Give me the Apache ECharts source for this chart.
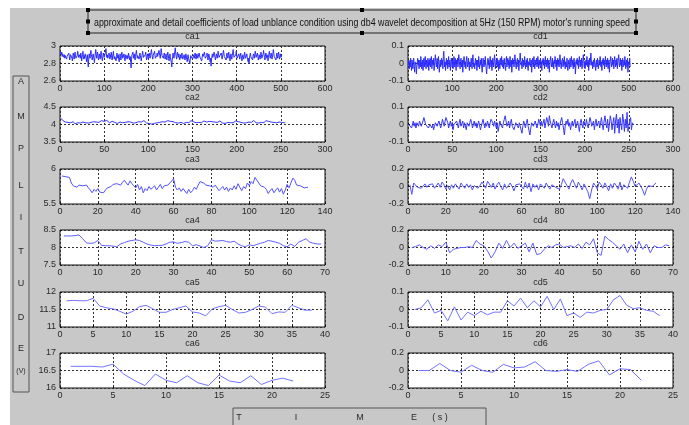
<!DOCTYPE html>
<html><head><meta charset="utf-8">
<script src="https://cdn.jsdelivr.net/npm/echarts@6/dist/echarts.min.js"></script>
<style>
html,body{margin:0;padding:0;background:#fff;}
#bg{position:absolute;left:10px;top:8px;width:679px;height:417px;background:#c8c8c8;}
#chart{position:absolute;left:0;top:0;width:689px;height:425px;}
</style></head>
<body><div id="bg"></div><div id="chart"></div>
<script>
const titleText = "approximate and detail coefficients of load unblance condition using db4 wavelet decomposition at 5Hz (150 RPM) motor's running speed";
const leftTitles = ['ca1','ca2','ca3','ca4','ca5','ca6'];
const rightTitles = ['cd1','cd2','cd3','cd4','cd5','cd6'];
const yLetters = ['A','M','P','L','I','T','U','D','E','(V)'];
const xLetters = ['T','I','M','E','( s )'];
// x axis ranges [min,max,interval] per row
const xRanges = [[0,600,100],[0,300,50],[0,140,20],[0,70,10],[0,40,5],[0,25,5]];
const yRangesA = [[2.6,3,0.2],[3.5,4.5,0.5],[5.5,6,0.5],[7.5,8.5,0.5],[11,12,0.5],[16,17,0.5]];
const yRangesD = [[-0.1,0.1,0.1],[-0.1,0.1,0.1],[-0.2,0.2,0.2],[-0.2,0.2,0.2],[-0.1,0.1,0.1],[-0.2,0.2,0.2]];

const ca1 = [
2.93,2.92,2.90,2.93,2.88,2.91,2.89,2.92,2.87,2.90,2.86,2.89,2.91,2.87,2.85,2.88,2.90,2.86,2.89,2.92,2.88,2.84,2.87,2.90,2.88,
2.91,2.86,2.83,2.88,2.92,2.89,2.85,2.87,2.93,2.90,2.86,2.88,2.84,2.89,2.94,2.91,2.87,2.85,2.90,2.88,2.86,2.92,2.89,2.83,2.87,
2.90,2.94,2.88,2.85,2.89,2.86,2.91,2.93,2.87,2.82,2.86,2.90,2.88,2.76,2.85,2.91,2.89,2.86,2.92,2.95,2.90,2.87,2.84,2.88,2.91,
2.89,2.85,2.81,2.87,2.92,2.96,2.90,2.86,2.88,2.93,2.89,2.84,2.87,2.91,2.88,2.85,2.90,2.94,2.89,2.86,2.83,2.88,2.92,2.90,2.87,
2.85,2.89,2.93,2.97,2.91,2.87,2.90,2.86,2.84,2.89,2.92,2.88,2.85,2.90,2.87,2.93,2.89,2.84,2.86,2.91,2.94,2.88,2.85,2.88,2.90,
2.87,2.83,2.88,2.92,2.89,2.86,2.90,2.85,2.82,2.87,2.91,2.88,2.84,2.89,2.93,2.90,2.86,2.88,2.85,2.91,2.87,2.83,2.86,2.90,2.92,
2.88,2.85,2.89,2.86,2.92,2.90,2.87,2.84,2.88,2.81,2.75,2.85,2.90,2.88,2.93,2.89,2.86,2.91,2.87,2.84,2.88,2.92,2.95,2.90,2.86,
2.89,2.87,2.91,2.85,2.88,2.92,2.89,2.86,2.83,2.87,2.90,2.94,2.91,2.87,2.85,2.89,2.86,2.90,2.93,2.88,2.84,2.87,2.91,2.89,2.85,
2.88,2.92,2.90,2.86,2.89,2.93,2.96,2.91,2.88,2.85,2.89,2.87,2.91,2.94,2.90,2.86,2.88,2.84,2.89,2.92,2.88,2.86,2.90,2.95,2.92,
2.89,2.86,2.91,2.97,2.93,2.89,2.87,2.90,2.86,2.88,2.92,2.89,2.85,2.88,2.91,2.87,2.84,2.89,2.93,2.90,2.86,2.83,2.88,2.91,2.87,
2.85,2.81,2.76,2.84,2.88,2.92,2.89,2.86,2.90,2.94,2.98,2.92,2.88,2.85,2.89,2.93,2.90,2.87,2.91,2.88,2.84,2.87,2.90,2.86,2.89,
2.92,2.88,2.85,2.83,2.87,2.90,2.88,2.84,2.86,2.91,2.89,2.85,2.82,2.87,2.90,2.86,2.88,2.84,2.80,2.85,2.89,2.87,2.91,2.88,2.85,
2.83,2.87,2.90,2.86,2.89,2.92,2.88,2.85,2.87,2.91,2.89,2.86,2.84,2.88,2.92,2.90,2.87,2.85,2.89,2.86,2.83,2.88,2.91,2.88,2.86,
2.90,2.93,2.89,2.86,2.88,2.85,2.89,2.92,2.88,2.84,2.87,2.91,2.89,2.85,2.82,2.86,2.77,2.84,2.88,2.91,2.87,2.85,2.89,2.93,2.90,
2.87,2.84,2.88,2.91,2.89,2.86,2.90,2.94,2.91,2.87,2.85,2.89,2.86,2.88,2.92,2.89,2.85,2.87,2.91,2.95,2.92,2.88,2.86,2.90,2.87,
2.84,2.88,2.92,2.89,2.86,2.88,2.93,2.90,2.86,2.83,2.87,2.91,2.88,2.85,2.89,2.92,2.96,2.91,2.87,2.85,2.89,2.86,2.90,2.94,2.90,
2.86,2.88,2.84,2.87,2.91,2.89,2.85,2.88,2.92,2.89,2.86,2.83,2.87,2.90,2.88,2.85,2.89,2.93,2.90,2.86,2.84,2.88,2.91,2.87,2.85,
2.82,2.86,2.80,2.85,2.89,2.92,2.88,2.86,2.90,2.87,2.84,2.88,2.91,2.89,2.86,2.90,2.94,2.91,2.87,2.85,2.89,2.92,2.88,2.84,2.87,
2.90,2.88,2.85,2.89,2.93,2.90,2.86,2.88,2.85,2.91,2.95,2.90,2.87,2.84,2.88,2.92,2.89,2.86,2.90,2.87,2.83,2.87,2.91,2.94,2.90,
2.86,2.89,2.92,2.88,2.85,2.87,2.91,2.96,2.92,2.88,2.86,2.90,2.87,2.84,2.88,2.92,2.89,2.86,2.90,2.93,2.89,2.85,2.88,2.91,2.87,
2.85,2.89,2.86];

const cd1 = [
-.01,.02,-.03,.01,-.02,.03,-.01,-.04,.02,.00,-.03,.01,.03,-.02,-.05,.01,.02,-.01,-.06,-.02,.01,.03,-.01,.02,-.03,
.00,.02,-.02,.04,.01,-.03,-.01,.02,-.04,.00,.03,-.02,.01,.04,-.01,-.03,.02,.00,-.02,.03,.01,-.04,.02,-.01,.03,
-.02,.01,.04,-.03,.00,.02,-.01,.03,-.04,-.01,.02,.05,.01,-.02,.00,.03,-.03,.01,.04,-.01,-.05,.00,.02,-.02,.01,
.03,-.01,.02,-.03,.04,.07,.02,-.02,.01,-.04,.00,.03,-.01,.02,-.03,.01,.04,-.02,.00,.02,-.04,-.01,.03,.01,-.02,
.02,-.03,.00,.04,.01,-.02,.03,-.01,-.04,.02,.00,.03,-.02,.01,.05,.02,-.01,-.03,.01,.03,-.02,.00,.02,-.05,-.01,
.02,.04,.00,-.02,.01,-.03,.02,.04,.01,-.02,.00,.03,-.01,-.04,.01,.02,-.02,.03,.00,-.03,.02,.05,.01,-.02,.00,
-.03,.01,.03,-.01,.02,-.04,.00,.02,-.02,.04,.01,-.03,.00,.02,-.01,.03,-.02,-.05,.00,.03,.01,-.02,.02,-.01,.04,
.00,-.03,-.06,-.02,.01,.03,-.01,.02,-.03,.00,.04,.01,-.02,.02,-.04,-.01,.03,.00,-.02,.02,.05,.01,-.03,.00,.02,
-.01,.03,-.02,.01,-.04,.02,.00,-.03,.03,.01,-.01,.04,.00,-.02,.02,-.03,.01,.03,-.01,.00,-.04,.02,.04,-.02,.01,
.03,-.01,.02,-.03,.00,.04,.01,-.02,.02,-.05,-.01,.03,.00,.02,-.02,.01,.05,.02,-.01,-.03,.01,.00,.03,-.02,.02,
-.04,.00,.02,.06,.02,-.01,.01,-.03,.03,.00,-.02,.02,-.01,.04,.01,-.03,.00,.02,-.02,.03,-.01,-.04,.01,.02,-.01,
.03,.00,-.02,.02,-.05,-.01,.03,.01,-.02,.04,.00,-.03,.02,-.01,.01,.03,-.02,.00,.04,.01,-.03,.02,-.01,.00,.03,
-.02,.01,-.04,.02,.00,.03,-.01,.02,-.03,.01,.04,.00,-.02,.02,-.01,.03,-.03,.00,.02,-.05,-.01,.02,.04,.01,-.02,
.00,.03,-.02,.01,-.03,.02,.00,.04,.01,-.02,.02,-.04,.00,.03,-.01,.02,-.02,.01,.05,.02,-.01,-.03,.01,.00,.03,
-.02,.02,-.01,.04,.00,-.03,.01,.02,-.02,.03,-.01,-.04,.00,.02,.01,-.03,.03,.00,-.02,.04,.01,-.01,.02,-.03,.00,
.03,-.02,.01,-.06,-.02,.02,.00,.03,-.01,.02,-.03,.01,.04,.00,-.02,.02,-.01,.03,-.03,.00,.02,.05,.01,-.02,.01,
-.03,.00,.02,-.01,.04,.01,-.02,.02,-.04,.00,.03,-.01,.02,.06,.02,-.01,.01,-.03,.00,.02,-.02,.03,.01,-.01,-.04,
.00,.02,-.02,.03,.01,-.03,.00,.02,-.01,.04,.00,-.02,.01,-.04,.02,.00,.03,-.01,.02,-.03,.01,.04,.00,-.02,.02,
-.01,.03,-.03,.00,.02,-.05,-.01,.02,.04,.01,-.02,.00,.03,-.01,.02,-.03,.01,.04,.00,-.02,.02,-.01,.03,-.03,.00,
.02,.05,.01,-.02,.00,.03,-.01,.02,-.04,.01,.03,-.02,.00,.02,-.01,.04,.01,-.03,.00,.02,-.02,.03,-.05,.01,.02,
-.01,.03,-.02];

const ca2 = [
4.18,4.15,4.12,4.10,4.09,4.07,4.08,4.05,4.06,4.04,4.07,4.05,4.03,4.06,4.08,4.05,4.02,4.04,4.07,4.05,4.03,4.06,4.04,4.01,4.05,
4.07,4.04,4.02,4.05,4.03,4.06,4.04,4.01,4.04,4.06,4.03,4.05,4.08,4.06,4.04,4.07,4.10,4.08,4.06,4.09,4.07,4.11,4.08,4.06,4.09,
4.07,4.10,4.12,4.09,4.07,4.05,4.08,4.06,4.09,4.07,4.04,4.06,4.08,4.05,4.03,4.06,4.04,4.07,4.05,4.02,4.05,4.07,4.04,4.06,4.03,
4.05,4.08,4.06,4.04,4.07,4.05,4.02,4.04,4.06,4.03,4.05,4.07,4.10,4.08,4.06,4.09,4.07,4.05,4.08,4.11,4.08,4.06,4.04,4.07,4.05,
4.03,4.06,4.04,4.01,4.04,4.06,4.03,4.00,4.03,4.05,4.02,4.04,4.06,4.03,4.05,4.08,4.06,4.04,4.07,4.05,4.08,4.11,4.08,4.06,4.09,
4.07,4.05,4.08,4.10,4.07,4.05,4.08,4.06,4.04,4.07,4.09,4.06,4.04,4.06,4.03,4.05,4.08,4.06,4.04,4.07,4.05,4.08,4.11,4.09,4.06,
4.08,4.06,4.03,4.05,4.07,4.04,4.06,4.09,4.07,4.05,4.08,4.06,4.10,4.08,4.05,4.07,4.04,4.06,4.09,4.07,4.05,4.08,4.12,4.09,4.07,
4.05,4.08,4.06,4.04,4.07,4.10,4.08,4.06,4.04,4.07,4.05,4.03,4.06,4.08,4.06,4.04,4.07,4.05,4.09,4.07,4.05,4.08,4.06,4.10,4.07,
4.05,4.08,4.11,4.08,4.06,4.09,4.07,4.04,4.06,4.08,4.05,4.07,4.10,4.07,4.05,4.08,4.06,4.09,4.12,4.09,4.07,4.05,4.08,4.06,4.04,
4.07,4.09,4.06,4.04,4.07,4.05,4.08,4.11,4.08,4.06,4.09,4.12,4.09,4.07,4.05,4.08,4.06,4.04,4.07,4.05,4.08,4.10,4.07,4.05,4.08,
4.06,4.09,4.07,4.05,4.06];

const cd2 = [
.00,-.01,.01,-.02,.00,.02,-.01,.01,-.02,.01,.00,-.01,.02,.01,-.01,.00,.02,.04,.02,.00,-.01,.01,-.02,-.01,.00,
.01,-.02,.00,-.03,-.01,.01,.02,-.01,.00,.02,.01,-.02,.00,.03,.01,-.01,.02,.04,.05,.01,-.02,.00,.02,-.01,.01,
-.03,.00,.01,-.01,.02,.00,-.02,.01,.03,-.01,.00,.02,-.02,.01,.00,-.03,.01,.02,-.01,.00,.03,.01,-.02,.00,.02,
-.01,.01,-.02,.00,.02,.01,-.03,-.01,.01,.03,.00,-.02,.01,-.01,.02,.00,-.02,.01,.03,.04,.01,-.01,.02,.00,-.02,
.01,-.04,-.01,.02,.00,.01,-.02,.01,.03,.05,.02,-.01,.00,.02,-.02,.01,.03,-.01,.00,-.03,-.01,.01,.02,.00,-.02,
.01,.00,-.03,-.05,-.01,.02,.00,-.02,.01,.03,-.01,.00,-.06,-.02,.01,.02,-.01,.00,.02,.01,-.02,.00,.03,.01,-.01,
.02,-.01,.00,.03,-.02,.01,.04,.02,-.01,.05,.02,.00,-.02,.01,.03,.00,-.02,.02,-.01,.01,-.03,.00,.02,.04,.01,
-.02,-.06,-.01,.02,.00,.03,-.01,.01,-.03,.00,.02,-.01,.01,.03,-.02,.00,.02,-.01,-.04,.01,.03,.00,-.02,.02,.01,
-.01,.03,.00,-.02,.01,.04,.02,-.01,.00,.02,-.03,.01,.03,-.01,.00,.02,-.02,.01,.04,.00,-.03,.02,.05,.01,-.02,
.03,-.04,.00,.05,.02,-.03,.01,.04,-.05,.02,.06,-.02,.03,-.05,.04,.00,-.03,.06,.02,-.04,.03,-.02,.07,-.04,-.05,
.02,.04,-.03,.01,.00];

const ca3 = [
5.90,5.90,5.89,5.90,5.88,5.80,5.76,5.76,5.74,5.77,5.78,5.76,5.75,5.77,5.73,5.70,5.66,5.71,5.68,5.72,
5.67,5.69,5.66,5.70,5.73,5.71,5.75,5.78,5.76,5.79,5.80,5.77,5.81,5.84,5.80,5.77,5.83,5.79,5.76,5.73,
5.78,5.70,5.75,5.66,5.72,5.69,5.75,5.71,5.73,5.76,5.70,5.74,5.78,5.72,5.76,5.74,5.77,5.80,5.82,5.86,
5.74,5.70,5.73,5.68,5.72,5.70,5.65,5.71,5.66,5.69,5.74,5.71,5.77,5.82,5.84,5.80,5.77,5.79,5.76,5.78,
5.74,5.77,5.73,5.69,5.72,5.75,5.70,5.74,5.68,5.73,5.70,5.76,5.71,5.79,5.74,5.69,5.75,5.72,5.80,5.76,
5.82,5.79,5.88,5.84,5.80,5.76,5.78,5.74,5.71,5.65,5.69,5.72,5.66,5.70,5.73,5.67,5.72,5.64,5.70,5.78,
5.73,5.80,5.87,5.84,5.77,5.78,5.76,5.74,5.73,5.73,5.74];

const cd3 = [
.02,-.09,.04,.02,-.01,.01,-.02,.00,.03,-.01,.02,.00,.03,-.02,.01,.04,-.01,.05,.02,-.03,
.01,-.04,.02,-.02,.03,.00,-.03,.04,.01,-.02,.03,-.01,.02,-.04,.01,.03,-.02,.01,.05,.02,
-.02,.06,.03,-.01,.04,-.03,.02,.05,.00,-.04,.03,-.02,.01,.04,.00,-.05,.02,.04,.03,.01,
-.03,.05,-.02,.04,-.06,.03,-.01,.02,-.04,.03,.01,-.02,.04,.00,-.03,.02,.04,-.01,.01,-.03,
.02,.09,.05,.01,-.03,.04,.08,.03,-.02,.05,.01,-.04,.03,.02,-.06,-.14,-.04,.04,.01,-.03,
.05,.02,-.02,.04,.00,-.05,.03,-.02,.04,.01,-.03,.05,-.04,.02,.03,-.02,.05,.11,.06,.00,
-.02,.04,.02,-.04,-.10,-.03,.01,.03,.00,.02,.04];

const ca4 = [
8.33,8.33,8.33,8.34,8.36,8.25,8.13,8.12,8.13,8.20,8.06,8.05,8.05,8.04,8.02,8.10,8.14,8.18,8.20,8.22,
8.20,8.15,8.10,8.07,8.05,8.06,8.06,8.10,8.15,8.16,8.12,8.14,8.17,8.15,8.05,8.08,8.04,8.00,8.05,8.22,
8.18,8.19,8.20,8.17,8.15,8.18,8.10,8.05,8.02,8.08,8.05,8.09,8.12,8.15,8.20,8.18,8.15,8.12,8.05,8.02,
8.10,8.03,8.15,8.20,8.25,8.15,8.12,8.10,8.10];

const cd4 = [
.00,.01,.03,.00,-.02,.02,-.01,.03,.01,.06,-.06,-.02,-.01,.00,.00,.01,.00,.08,.04,.02,
-.04,-.12,-.05,.05,-.01,.08,.00,.05,-.01,.02,.05,-.05,.05,-.08,-.07,-.02,.02,.00,.03,.04,
.00,.01,.02,.00,.04,-.01,.06,.03,.10,-.06,-.09,.13,.09,.06,.02,-.02,.04,-.06,.03,-.05,
.07,-.02,.04,-.06,.02,.00,.00,.03,.02];

const ca5 = [
11.75,11.76,11.75,11.75,11.82,11.60,11.55,11.52,11.45,11.37,11.45,11.58,11.62,11.52,11.42,11.42,11.50,11.55,11.60,
11.43,11.40,11.32,11.52,11.58,11.62,11.50,11.40,11.42,11.50,11.60,11.57,11.38,11.43,11.42,11.62,11.55,11.48,11.48];

const cd5 = [
.000,.010,.055,-.020,-.005,-.065,.015,-.060,-.015,-.035,-.010,-.030,-.015,-.015,.050,.020,.065,.010,.050,
.015,.075,.000,.060,-.035,-.020,-.045,-.015,-.020,-.005,.000,.055,.080,.025,.005,.010,-.005,-.010,-.035];

const ca6 = [16.62,16.62,16.62,16.60,16.68,16.40,16.22,16.07,16.40,16.22,16.15,16.35,16.15,16.07,16.37,16.20,16.15,16.35,16.10,16.22,16.28,16.20];

const cd6 = [.00,.00,.08,.00,-.02,.06,.00,-.02,.07,.03,.04,.10,.00,-.01,.01,-.01,.07,.11,-.05,.02,.01,-.11];

const caData = [ca1,ca2,ca3,ca4,ca5,ca6];
const cdData = [cd1,cd2,cd3,cd4,cd5,cd6];

// layout
const LX = 60, RX = 408, PW = 265, PH = 35;
const TOPS = [46,107,169,230,292,353];
const lineColors = ['#2a2aff','#3535ff','#5252ff','#6060ff','#7373ff','#7373ff'];
const FONT = '"Liberation Sans", Arial, sans-serif';

const grids = [], xAxes = [], yAxes = [], series = [];
function addPlot(left, top, xr, yr, data, color) {
  const gi = grids.length;
  grids.push({left:left, top:top, width:PW, height:PH, show:true, backgroundColor:'#fff', borderColor:'#111', borderWidth:1});
  const split = {show:true, lineStyle:{color:'#333', type:[2,2], width:1}};
  xAxes.push({type:'value', gridIndex:gi, min:xr[0], max:xr[1], interval:xr[2],
    axisLine:{show:false}, axisTick:{show:true, inside:true, length:2, lineStyle:{color:'#111'}},
    splitLine:split,
    axisLabel:{fontSize:9, color:'#2a2a2a', margin:3, fontFamily:FONT, showMinLabel:true, showMaxLabel:true}});
  yAxes.push({type:'value', gridIndex:gi, min:yr[0], max:yr[1], interval:yr[2],
    axisLine:{show:false}, axisTick:{show:true, inside:true, length:2, lineStyle:{color:'#111'}},
    splitLine:split,
    axisLabel:{fontSize:9, color:'#2a2a2a', margin:4, fontFamily:FONT, showMinLabel:true, showMaxLabel:true}});
  series.push({type:'line', xAxisIndex:gi, yAxisIndex:gi, showSymbol:false, symbol:'none',
    lineStyle:{color:color, width:1}, data:data.map((v,i)=>[i+1,v]), animation:false, silent:true});
}
for (let r=0;r<6;r++){
  addPlot(LX, TOPS[r], xRanges[r], yRangesA[r], caData[r], lineColors[r]);
  addPlot(RX, TOPS[r], xRanges[r], yRangesD[r], cdData[r], lineColors[r]);
}

const elements = [];
// subplot titles
for (let r=0;r<6;r++){
  const ty = TOPS[r]-9;
  elements.push({type:'text', x:LX+PW/2, y:ty, style:{text:leftTitles[r], font:'9px '+FONT, fill:'#2a2a2a', textAlign:'center', textVerticalAlign:'middle', align:'center', verticalAlign:'middle'}});
  elements.push({type:'text', x:RX+PW/2, y:ty, style:{text:rightTitles[r], font:'9px '+FONT, fill:'#2a2a2a', textAlign:'center', textVerticalAlign:'middle', align:'center', verticalAlign:'middle'}});
}
// title box with handles
const TB = {x:88, y:10, w:548, h:23};
elements.push({type:'rect', shape:{x:TB.x, y:TB.y, width:TB.w, height:TB.h}, style:{fill:'none', stroke:'#222', lineWidth:1}});
const hs = 4;
[[TB.x,TB.y],[TB.x+TB.w/2,TB.y],[TB.x+TB.w,TB.y],[TB.x,TB.y+TB.h/2],[TB.x+TB.w,TB.y+TB.h/2],[TB.x,TB.y+TB.h],[TB.x+TB.w/2,TB.y+TB.h],[TB.x+TB.w,TB.y+TB.h]].forEach(p=>{
  elements.push({type:'rect', shape:{x:p[0]-hs/2, y:p[1]-hs/2, width:hs, height:hs}, style:{fill:'#000'}});
});
const tFont = '11px ' + FONT;
const mctx = document.createElement('canvas').getContext('2d');
mctx.font = tFont;
const tw = mctx.measureText(titleText).width;
elements.push({type:'text', x:TB.x+TB.w/2, y:TB.y+TB.h/2+1, scaleX:536/tw, style:{text:titleText, font:tFont, fill:'#111', textAlign:'center', textVerticalAlign:'middle', align:'center', verticalAlign:'middle'}});

// y label box
elements.push({type:'rect', shape:{x:13, y:76, width:16, height:316}, style:{fill:'none', stroke:'#555', lineWidth:1}});
const yPos = [82,117,149,186,218,252,284,318,349,371];
yLetters.forEach((t,i)=>{
  elements.push({type:'text', x:21, y:yPos[i], style:{text:t, font:(t==='(V)'?'7px ':'9px ')+FONT, fill:'#2a2a2a', textAlign:'center', textVerticalAlign:'middle', align:'center', verticalAlign:'middle'}});
});
// time box
elements.push({type:'rect', shape:{x:233, y:408, width:253, height:22}, style:{fill:'none', stroke:'#555', lineWidth:1}});
const xPos = [239,296,360,414,440];
xLetters.forEach((t,i)=>{
  elements.push({type:'text', x:xPos[i], y:418, style:{text:t, font:'9px '+FONT, fill:'#2a2a2a', textAlign:'center', textVerticalAlign:'middle', align:'center', verticalAlign:'middle'}});
});

const chart = echarts.init(document.getElementById('chart'), null, {renderer:'canvas'});
chart.setOption({
  animation:false,
  backgroundColor:'transparent',
  grid:grids, xAxis:xAxes, yAxis:yAxes, series:series,
  graphic:{elements:elements}
});
</script></body></html>
